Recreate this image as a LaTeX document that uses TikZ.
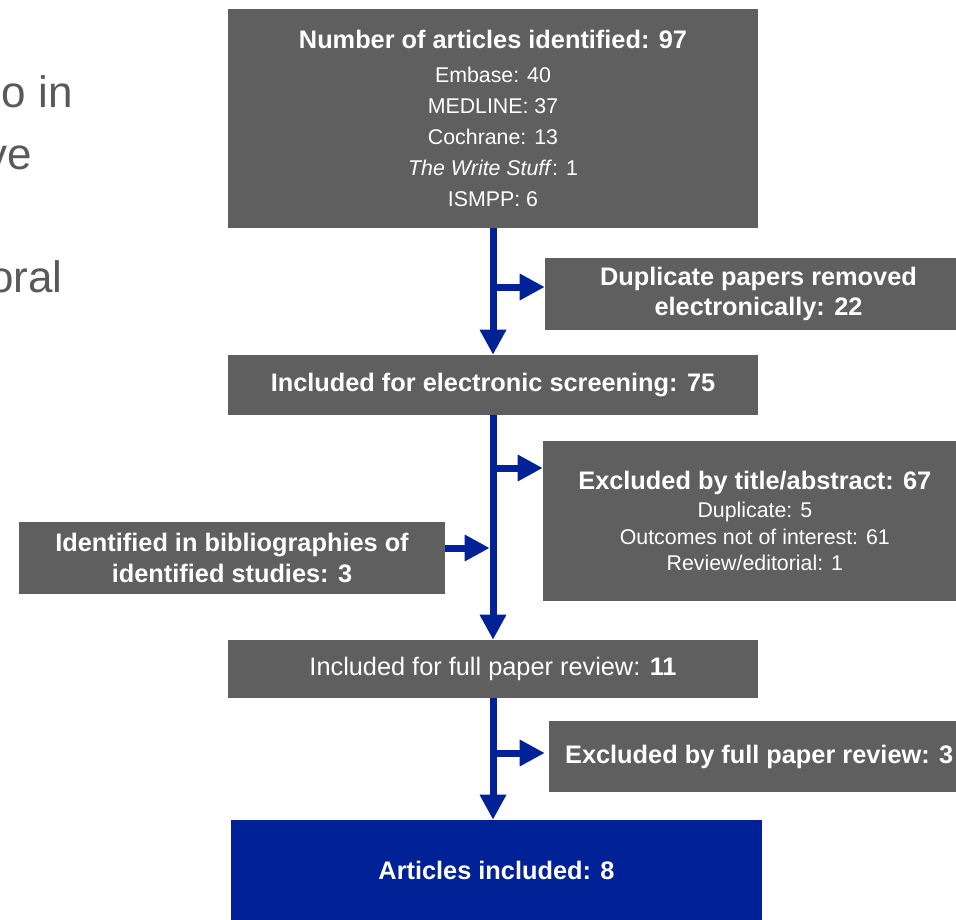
\documentclass[tikz,border=0pt]{standalone}
\usepackage{fontspec}
\setmainfont{Liberation Sans}
\usepackage{xcolor}
\usetikzlibrary{arrows.meta}

\definecolor{boxgray}{RGB}{95,95,95}
\definecolor{flowblue}{RGB}{0,34,150}
\definecolor{slidegray}{RGB}{89,89,89}

\begin{document}
\begin{tikzpicture}[x=0.75pt,y=0.75pt,yscale=-1,
    graybox/.style={fill=boxgray,draw=none,inner sep=0pt,text=white,align=center},
    bluebox/.style={fill=flowblue,draw=none,inner sep=0pt,text=white,align=center},
    boldtext/.style={font=\fontsize{19}{23}\selectfont\bfseries},
    flowarrow/.style={draw=flowblue,line width=5.25pt,-{Triangle[length=18.75pt,width=18.75pt]}},
    slidetext/.style={text=slidegray,inner sep=0pt,anchor=base east,font=\fontsize{33}{40}\selectfont}]
    \useasboundingbox (0,0) rectangle (956,920);

    % Slide text cut off on the left
    \node [slidetext] (txta) at (73,108) {o in};
    \node [slidetext] (txtb) at (32,170) {ve};
    \node [slidetext] (txtc) at (63,292) {oral};

    % Boxes
    \node [graybox,font=\fontsize{16}{23.25}\selectfont,minimum width=397.5pt,minimum height=164.25pt] (ident) at (493,118.5)
        {{\fontsize{19}{23}\selectfont\bfseries Number of articles identified: 97}\\[2.5pt]
         Embase: 40\\ MEDLINE: 37\\ Cochrane: 13\\
         \textit{The Write Stuff}: 1\\ ISMPP: 6};
    \node [graybox,boldtext,minimum width=308.25pt,minimum height=54pt] (dupl) at (750.5,294)
        {\hspace*{12pt}Duplicate papers removed\\ \hspace*{12pt}electronically: 22};
    \node [graybox,boldtext,minimum width=397.5pt,minimum height=45pt] (screen) at (493,385)
        {Included for electronic screening: 75};
    \node [graybox,font=\fontsize{16}{20}\selectfont,minimum width=309.75pt,minimum height=120pt] (exabs) at (749.5,521)
        {{\fontsize{19}{23}\selectfont\bfseries \hspace*{8pt}Excluded by title/abstract: 67}\\[1pt]
         \hspace*{8pt}Duplicate: 5\\
         \hspace*{8pt}Outcomes not of interest: 61\\
         \hspace*{8pt}Review/editorial: 1};
    \node [graybox,boldtext,minimum width=319.5pt,minimum height=54pt] (biblio) at (232,558)
        {Identified in bibliographies of\\ identified studies: 3};
    \node [graybox,font=\fontsize{19}{23}\selectfont,minimum width=397.5pt,minimum height=43.5pt] (fullrev) at (493,669)
        {Included for full paper review: \textbf{11}};
    \node [graybox,boldtext,minimum width=305.25pt,minimum height=53.25pt] (exfull) at (752.5,756.5)
        {\hspace*{10pt}Excluded by full paper review: 3};
    \node [bluebox,boldtext,minimum width=398.25pt,minimum height=75pt] (final) at (496.5,870)
        {Articles included: 8};

    % Branch points on the trunk
    \coordinate (brdup) at (493,287);
    \coordinate (brabs) at (493,468);
    \coordinate (brbib) at (493,548);
    \coordinate (brfull) at (493,753);

    % Arrows
    \draw [flowarrow] (ident) -- (screen);
    \draw [flowarrow] (brdup) -- (brdup -| dupl.west);
    \draw [flowarrow] (screen) -- (fullrev);
    \draw [flowarrow] (brabs) -- (brabs -| exabs.west);
    \draw [flowarrow,shorten >=2.5pt] (brbib -| biblio.east) -- (brbib);
    \draw [flowarrow] (fullrev.south) -- (fullrev.south |- final.north);
    \draw [flowarrow,shorten >=3pt] (brfull) -- (brfull -| exfull.west);

\end{tikzpicture}
\end{document}
